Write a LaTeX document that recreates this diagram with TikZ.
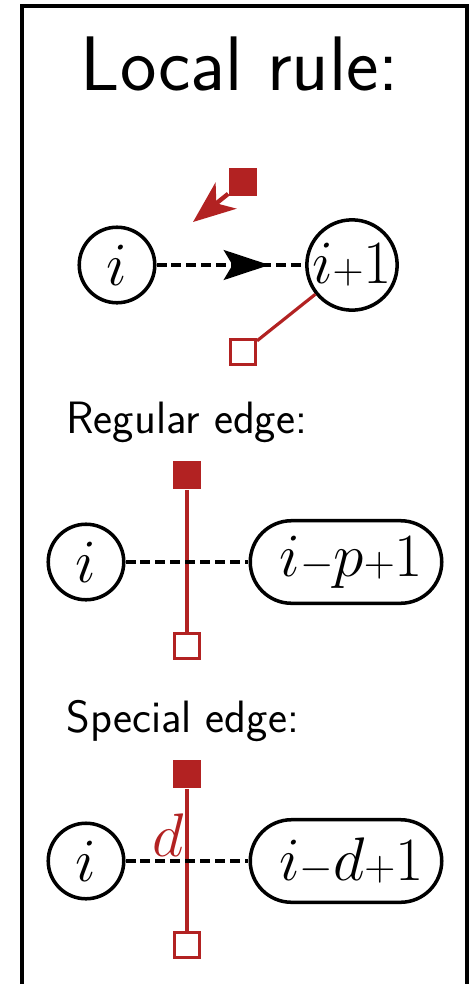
\RequirePackage{fix-cm}
\documentclass[tikz,border=0pt]{standalone}
\usepackage{fontspec}
\usepackage{amsmath}
\usepackage{xcolor}
\usetikzlibrary{arrows.meta,shapes.misc,decorations.markings}
\definecolor{rulered}{RGB}{178,34,34}

\begin{document}
\begin{tikzpicture}[x=0.02cm,y=-0.02cm,>=Stealth,
    mathfont/.style={font=\fontsize{35}{40}\selectfont},
    vert/.style={circle,draw,line width=2pt,minimum size=43pt,inner sep=0pt,mathfont},
    bigvert/.style={vert,minimum size=50pt},
    pill/.style={rounded rectangle,draw,line width=2pt,minimum width=109pt,minimum height=47pt,inner sep=0pt,mathfont},
    fullsq/.style={rectangle,fill=rulered,minimum size=16.4pt,inner sep=0pt},
    emptysq/.style={rectangle,draw=rulered,fill=white,line width=2pt,minimum size=14pt,inner sep=0pt},
    dashedge/.style={line width=2pt,dash pattern=on 5.7pt off 2.8pt},
    redline/.style={rulered,line width=1.8pt},
    heading/.style={font=\sffamily\fontsize{25.8}{30}\selectfont,anchor=base west,inner sep=0pt}]
  \useasboundingbox (0,0) rectangle (474,984);
  \draw[line width=2pt] (22,6) rectangle (467,1010);
  \node[font=\sffamily\fontsize{44}{50}\selectfont,anchor=base,inner sep=0pt] (title) at (240,90) {Local rule:};

  % local rule
  \node[vert] (i1) at (117,265) {$i$};
  \node[bigvert] (ip1) at (352,265) {$i{\scriptstyle+}1$};
  \node[fullsq] (fsq1) at (243,182) {};
  \coordinate (tip1) at (193,222);
  \node[emptysq] (esq1) at (243,352) {};
  \draw[dashedge,postaction={decorate,decoration={markings,
      mark=at position 0.76 with {\arrow{Stealth[length=26pt,width=17pt,inset=5pt]}}}}] (i1) -- (ip1);
  \draw[rulered,line width=2.5pt,-{Stealth[length=24pt,width=19pt,inset=7pt]}] (fsq1) -- (tip1);
  \draw[redline] (esq1) -- (ip1);

  % regular edge
  \node[heading] (reg) at (66,433) {Regular edge:};
  \node[vert] (i2) at (86,562) {$i$};
  \node[pill] (p2) at (346,562) {\hspace*{6pt}$i{\scriptstyle-}p{\scriptstyle+}1$};
  \node[fullsq] (fsq2) at (187,475) {};
  \node[emptysq] (esq2) at (187,646) {};
  \draw[redline] (fsq2) -- (esq2);
  \draw[dashedge] (i2) -- (p2);

  % special edge
  \node[heading] (spec) at (66,732) {Special edge:};
  \node[vert] (i3) at (86,861) {$i$};
  \node[pill] (p3) at (346,861) {\hspace*{6pt}$i{\scriptstyle-}d{\scriptstyle+}1$};
  \node[fullsq] (fsq3) at (187,774) {};
  \node[emptysq] (esq3) at (187,945) {};
  \draw[redline] (fsq3) -- (esq3);
  \draw[dashedge] (i3) -- (p3);
  \node[mathfont,text=rulered,inner sep=0pt] (dlab) at (168,835) {$d$};
\end{tikzpicture}
\end{document}
